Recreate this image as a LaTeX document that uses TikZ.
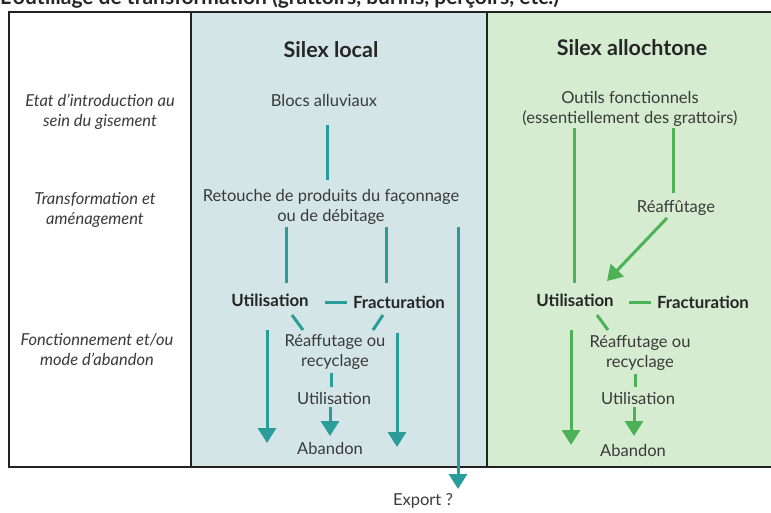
\documentclass[tikz,border=0pt]{standalone}
\usepackage{fontspec}
\setmainfont{Lato}
\usetikzlibrary{arrows.meta,calc}
\definecolor{bluefill}{HTML}{D3E5E6}
\definecolor{greenfill}{HTML}{D5ECD0}
\definecolor{tealline}{HTML}{2A9C9A}
\definecolor{greenline}{HTML}{4DB256}
\definecolor{txt}{HTML}{3A3A3A}
\definecolor{framec}{HTML}{222222}
\begin{document}
\begin{tikzpicture}[x=1pt,y=-1pt,
  lbl/.style={font=\fontsize{16.5}{20}\selectfont, text=txt, align=center, inner sep=0pt},
  blbl/.style={font=\fontsize{16.8}{20}\selectfont\bfseries, text=black!85, align=center, inner sep=0pt},
  rowlbl/.style={font=\fontsize{16.5}{20}\selectfont\itshape, text=txt, align=center, inner sep=0pt},
  head/.style={font=\fontsize{21.5}{24}\selectfont\bfseries, text=black!85, inner sep=0pt},
  tl/.style={draw=tealline, line width=3pt},
  gl/.style={draw=greenline, line width=3pt},
  arr/.style={-{Triangle[width=18pt,length=15pt]}},
  framel/.style={draw=framec, line width=2.5pt}
]
\useasboundingbox (0,0) rectangle (771,512);
\clip (0,0) rectangle (771,512);

% panels
\fill[bluefill] (191,12) rectangle (487,467);
\fill[greenfill] (487,12) rectangle (780,467);
\draw[framel] (780,12) -- (9,12) -- (9,467) -- (780,467);
\draw[framel] (191,12) -- (191,467);
\draw[framel] (487,12) -- (487,467);

% title (cut off at the top, as in the reference)
\node[anchor=base west, inner sep=0pt, font=\fontsize{21}{24}\selectfont\bfseries, text=black!85] (title) at (0,4) {L'outillage de transformation (grattoirs, burins, perçoirs, etc.)};

% row labels
\node[rowlbl] (r1) at (100,112) {Etat d'introduction au\\sein du gisement};
\node[rowlbl] (r2) at (95,210) {Transformation et\\aménagement};
\node[rowlbl] (r3) at (97,350) {Fonctionnement et/ou\\mode d'abandon};

% headers
\node[head] (hl) at (331,50) {Silex local};
\node[head] (ha) at (632,48) {Silex allochtone};

% local column
\node[lbl] (blocs) at (324,100) {Blocs alluviaux};
\node[lbl] (retouche) at (331,207) {Retouche de produits du façonnage\\ou de débitage};
\node[blbl] (util1) at (270,300) {Utilisation};
\node[blbl] (frac1) at (399,302) {Fracturation};
\node[lbl] (reaf1) at (335,352) {Réaffutage ou\\recyclage};
\node[lbl] (util1b) at (334,398) {Utilisation};
\node[lbl] (aband1) at (330,448) {Abandon};
\node[lbl] (export) at (423,501) {Export ?};

% allochtone column
\node[lbl] (outils) at (630,109) {Outils fonctionnels\\(essentiellement des grattoirs)};
\node[lbl] (reafg) at (676,208) {Réaffûtage};
\node[blbl] (util2) at (575,300) {Utilisation};
\node[blbl] (frac2) at (703,302) {Fracturation};
\node[lbl] (reaf2) at (640,353) {Réaffutage ou\\recyclage};
\node[lbl] (util2b) at (638,398) {Utilisation};
\node[lbl] (aband2) at (633,450) {Abandon};

% local connectors
\draw[tl] (327,125) -- (327,180);
\draw[tl] (286,227) -- (286,283);
\draw[tl] (386,227) -- (386,283);
\draw[tl] (325,302) -- (347,302);
\draw[tl] (292,315) -- (303,330);
\draw[tl] (383,315) -- (373,330);
\draw[tl] (331,373) -- (331,387);
\draw[tl,arr] (330,407) -- (330,436);
\draw[tl,arr] (267,330) -- (267,443);
\draw[tl,arr] (397,333) -- (397,447);
\draw[tl,arr] (458,227) -- (458,489);

% allochtone connectors
\draw[gl] (574,128) -- (574,283);
\draw[gl] (673,128) -- (673,193);
\draw[gl,arr] (667,218) -- (607,281);
\draw[gl] (629,302) -- (651,302);
\draw[gl] (597,315) -- (608,330);
\draw[gl] (635,374) -- (635,387);
\draw[gl,arr] (634,407) -- (634,436);
\draw[gl,arr] (571,330) -- (571,445);
\end{tikzpicture}
\end{document}
